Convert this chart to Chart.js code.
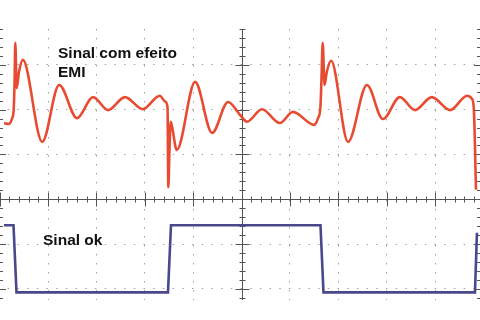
<!DOCTYPE html>
<html>
<head>
<meta charset="utf-8">
<script src="https://cdn.jsdelivr.net/npm/chart.js@4/dist/chart.umd.min.js"></script>
<style>
  html, body { margin: 0; padding: 0; background: #fff; }
  #scope { display: block; }
</style>
</head>
<body>
<canvas id="scope" width="480" height="320"></canvas>
<script>
// time in screen divisions, level in vertical divisions (0 = centre line)
const redTime = [0.09, 0.19, 0.26, 0.29, 0.31, 0.324, 0.353, 0.40, 0.48, 0.88, 1.23, 1.60, 1.93, 2.24, 2.59, 2.96, 3.31,
  3.42, 3.47, 3.486, 3.51, 3.535, 3.56, 3.66, 4.04, 4.39, 4.72, 4.97, 5.11, 5.42, 5.79, 6.06, 6.50,
  6.58, 6.63, 6.65, 6.676, 6.713, 6.76, 6.85, 7.20, 7.59, 7.92, 8.27, 8.58, 8.93, 9.31, 9.66, 9.76, 9.80, 9.843];
const redLevel = [1.70, 1.68, 1.81, 1.99, 2.66, 3.49, 2.48, 2.84, 3.11, 1.28, 2.55, 1.81, 2.28, 1.99, 2.28, 2.01, 2.31,
  2.18, 2.04, 0.27, 1.10, 1.73, 1.64, 1.10, 2.62, 1.48, 2.17, 1.88, 1.73, 2.01, 1.70, 1.95, 1.66,
  1.81, 2.08, 2.66, 3.49, 2.55, 2.84, 3.09, 1.28, 2.55, 1.79, 2.28, 1.99, 2.28, 1.99, 2.31, 2.24, 1.99, 0.21];

const blueTime = [0.09, 0.287, 0.349, 3.479, 3.541, 6.63, 6.692, 9.822, 9.863];
const blueLevel = [-0.58, -0.58, -2.08, -2.08, -0.58, -0.58, -2.08, -2.08, -0.75];

const gridX = [1, 2, 3, 4, 5, 6, 7, 8, 9];
const gridY = [-2, -1, 0, 1, 2, 3];

const captions = [
  { text: 'Sinal com efeito', x: 1.207, y: 3.154 },
  { text: 'EMI', x: 1.207, y: 2.73 },
  { text: 'Sinal ok', x: 0.897, y: -1.02 }
];

function toPoints(xs, ys) {
  return xs.map((x, i) => ({ x: x, y: ys[i] }));
}

// centre cross with ticks, edge ticks and captions
const scopePlugin = {
  id: 'scopeAxes',
  beforeDatasetsDraw(chart) {
    const ctx = chart.ctx;
    const xs = chart.scales.x;
    const ys = chart.scales.y;
    const area = chart.chartArea;
    const cx = Math.round(xs.getPixelForValue(5)) + 0.5;
    const cy = Math.round(ys.getPixelForValue(0)) + 0.5;
    ctx.save();
    ctx.strokeStyle = '#555';
    ctx.lineWidth = 1;
    ctx.beginPath();
    ctx.moveTo(area.left, cy); ctx.lineTo(area.right, cy);
    ctx.moveTo(cx, area.top); ctx.lineTo(cx, area.bottom);
    // ticks along horizontal centre line
    for (let v = 0; v <= 10.001; v += 0.2) {
      const px = Math.round(xs.getPixelForValue(v)) + 0.5;
      if (px < area.left || px > area.right) continue;
      const major = Math.abs(v - Math.round(v)) < 0.01;
      const len = major ? 7 : 3;
      ctx.moveTo(px, cy - len); ctx.lineTo(px, cy + len);
    }
    // ticks along vertical centre line and edges
    for (let v = -3; v <= 4.001; v += 0.2) {
      const py = Math.round(ys.getPixelForValue(v)) + 0.5;
      if (py < area.top || py > area.bottom) continue;
      const major = Math.abs(v - Math.round(v)) < 0.01;
      const len = major ? 7 : 3;
      ctx.moveTo(cx - len, py); ctx.lineTo(cx + len, py);
      ctx.moveTo(area.left, py); ctx.lineTo(area.left + (major ? 6 : 3), py);
      ctx.moveTo(area.right, py); ctx.lineTo(area.right - (major ? 6 : 3), py);
    }
    ctx.stroke();
    ctx.restore();
  },
  afterDatasetsDraw(chart) {
    const ctx = chart.ctx;
    const xs = chart.scales.x;
    const ys = chart.scales.y;
    ctx.save();
    ctx.fillStyle = '#111';
    ctx.font = 'bold 15.5px "Liberation Sans", Arial, sans-serif';
    ctx.textBaseline = 'alphabetic';
    captions.forEach(c => {
      ctx.fillText(c.text, xs.getPixelForValue(c.x), ys.getPixelForValue(c.y));
    });
    ctx.restore();
  }
};

new Chart(document.getElementById('scope'), {
  type: 'line',
  data: {
    datasets: [{
      label: 'Sinal com efeito EMI',
      data: toPoints(redTime, redLevel),
      borderColor: 'rgba(230, 66, 40, 0.95)',
      borderWidth: 2.6,
      pointRadius: 0,
      cubicInterpolationMode: 'monotone'
    }, {
      label: 'Sinal ok',
      data: toPoints(blueTime, blueLevel),
      borderColor: '#48488a',
      borderWidth: 2.6,
      pointRadius: 0,
      tension: 0
    }]
  },
  options: {
    responsive: false,
    animation: false,
    devicePixelRatio: 1,
    layout: { padding: { top: 29, bottom: 20, left: 0, right: 0 } },
    plugins: { legend: { display: false }, tooltip: { enabled: false } },
    scales: {
      x: {
        type: 'linear',
        min: 0.008,
        max: 9.926,
        afterBuildTicks: s => { s.ticks = gridX.map(v => ({ value: v })); },
        ticks: { display: false },
        grid: {
          drawTicks: false,
          color: c => (c.tick && c.tick.value === 5) ? 'rgba(0,0,0,0)' : '#a0a0a0',
          lineWidth: 1
        },
        border: { display: false, dash: [1.5, 7.5], dashOffset: 0 }
      },
      y: {
        type: 'linear',
        min: -2.25,
        max: 3.80,
        afterBuildTicks: s => { s.ticks = gridY.map(v => ({ value: v })); },
        ticks: { display: false },
        grid: {
          drawTicks: false,
          color: c => (c.tick && c.tick.value === 0) ? 'rgba(0,0,0,0)' : '#a0a0a0',
          lineWidth: 1
        },
        border: { display: false, dash: [1.5, 8.2], dashOffset: 2 }
      }
    }
  },
  plugins: [scopePlugin]
});
</script>
</body>
</html>
